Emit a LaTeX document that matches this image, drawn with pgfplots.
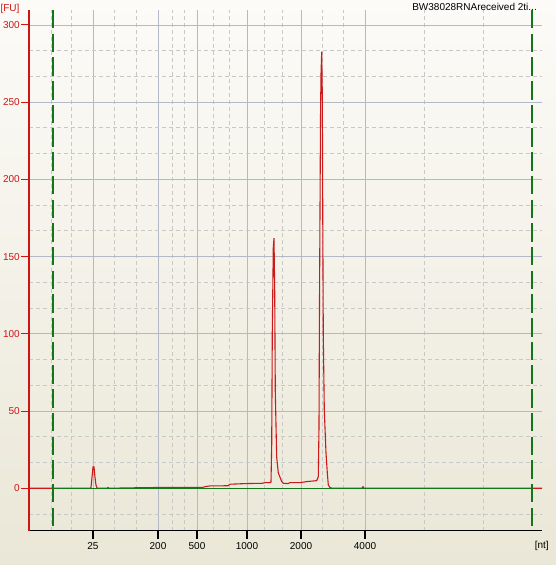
\documentclass[border=0pt]{standalone}
\usepackage{pgfplots}
\pgfplotsset{compat=1.18}
\usepackage{fontspec}
\setmainfont{Liberation Sans}
\definecolor{bgtop}{HTML}{FCFBF8}
\definecolor{bgbot}{HTML}{EAE7D7}
\definecolor{axred}{HTML}{D01414}
\definecolor{curvered}{HTML}{CC1A1A}
\definecolor{gridsolid}{HTML}{B3B9C6}
\definecolor{griddash}{HTML}{C8C8C5}
\definecolor{markgreen}{HTML}{11771A}
\begin{document}
\begin{tikzpicture}[x=1pt,y=1pt]
\shade[top color=bgtop,bottom color=bgbot] (0,0) rectangle (556,565);
\begin{axis}[
  at={(29pt,34.3pt)}, anchor=south west,
  scale only axis, width=513pt, height=520.7pt,
  xmin=29, xmax=542, ymin=-27.5, ymax=309.7,
  axis x line*=bottom, axis y line*=left,
  x axis line style={black, line width=1.1pt},
  y axis line style={axred, line width=1.2pt},
  xtick={93,158,197,247,301,365},
  xticklabels={25,200,500,1000,2000,4000},
  minor xtick={51,71,114,136,172,184,213,229,264,282,322,343,424,483},
  ytick={0,50,100,150,200,250,300},
  minor ytick={-16.667,16.667,33.333,66.667,83.333,116.667,133.333,166.667,183.333,216.667,233.333,266.667,283.333},
  grid=both,
  major grid style={gridsolid, line width=0.9pt},
  minor grid style={griddash, line width=0.9pt, dash pattern=on 4pt off 3pt},
  xtick align=outside, ytick align=outside,
  major tick length=8pt, minor tick length=0pt,
  xtick style={draw=black, line width=1.1pt},
  ytick style={draw=axred, line width=1pt},
  minor tick style={draw=none},
  /pgf/number format/assume math mode=true,
  tick label style={font=\fontsize{10}{12}\selectfont},
  xticklabel style={black},
  yticklabel style={axred, inner sep=1pt},
  clip=true,
]
\addplot[curvered, line width=1.1pt] coordinates {
(29,0) (90,0) (91,0.5) (92,7) (93,13.8) (94,13.8) (95,7) (96,2) (97,0)
(107,0) (108,0.5) (109,0) (136,0.3) (160,0.5) (180,0.6) (203,0.6) (205,1.0) (210,1.5)
(228,1.6) (230,2.6) (245,3) (262,3.2) (265,3.6) (270,3.6) (271,4)
(271.7,28) (272.3,102) (273.3,156) (274,161.9) (274.7,128) (275.3,62) (276.7,20)
(278.3,10) (281.7,4.3) (283.3,3.2) (288,3.0) (290,3.6) (300,3.6) (306.7,4.3) (316.7,4.9) (318.3,7.5)
(319,40) (319.5,120) (320,180) (320.5,240) (321,268) (321.7,282.8) (322.3,255) (322.8,170)
(323.3,98) (324.3,50.7) (326,22.8) (327.3,10) (328.3,2.1) (330,0.4) (332.7,0)
(362,0) (363,1) (364,0) (542,0)
};
\addplot[markgreen, line width=1.1pt] coordinates {(53,0) (532,0)};
\addplot[markgreen, line width=1.2pt, dash pattern=on 18.5pt off 5.2pt] coordinates {(53,309.7) (53,-27.5)};
\addplot[markgreen, line width=1.2pt, dash pattern=on 18.5pt off 5.2pt] coordinates {(532,309.7) (532,-27.5)};
\end{axis}
\node[axred, font=\fontsize{10}{12}\selectfont, inner sep=0pt] at (10,556) {[FU]};
\node[black, font=\fontsize{10}{12}\selectfont, inner sep=0pt] at (541.7,19) {[nt]};
\node[black, font=\fontsize{10}{12}\selectfont, inner sep=0pt, anchor=east] at (537,558) {BW38028RNAreceived 2ti...};
\pgfresetboundingbox
\path (0,0) rectangle (556,565);
\end{tikzpicture}
\end{document}
